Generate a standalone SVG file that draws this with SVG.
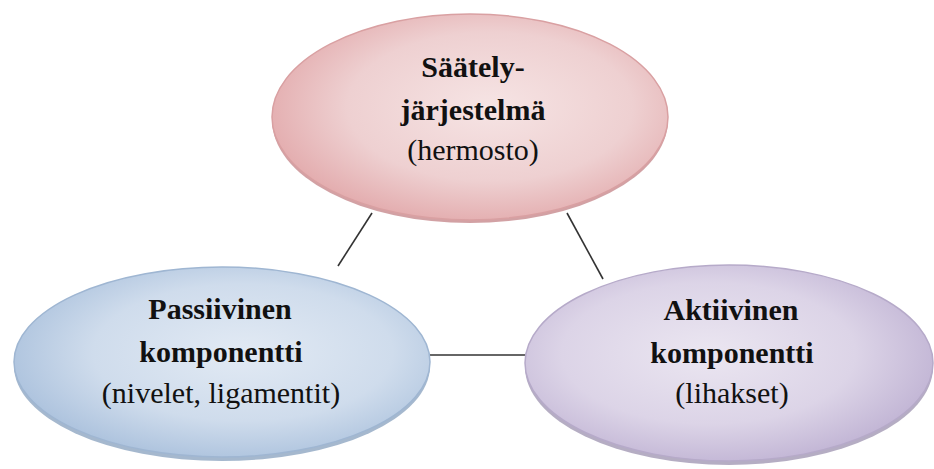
<svg xmlns="http://www.w3.org/2000/svg" width="934" height="469" viewBox="0 0 934 469">
<defs>
<radialGradient id="gPink" cx="0.55" cy="0.45" r="0.6">
<stop offset="0" stop-color="#f6e4e4"/>
<stop offset="0.6" stop-color="#eed0d1"/>
<stop offset="1" stop-color="#e2a8aa"/>
</radialGradient>
<radialGradient id="gBlue" cx="0.55" cy="0.45" r="0.6">
<stop offset="0" stop-color="#e2eaf4"/>
<stop offset="0.6" stop-color="#cfdcec"/>
<stop offset="1" stop-color="#a9c0dc"/>
</radialGradient>
<radialGradient id="gPurp" cx="0.45" cy="0.45" r="0.6">
<stop offset="0" stop-color="#ebe6f1"/>
<stop offset="0.6" stop-color="#dcd4e7"/>
<stop offset="1" stop-color="#bfb2d3"/>
</radialGradient>
</defs>
<rect width="934" height="469" fill="#ffffff"/>
<g id="connectors" stroke="#333" stroke-width="1.6" fill="none">
<line x1="372" y1="213" x2="338" y2="266"/>
<line x1="567" y1="213" x2="603" y2="279"/>
<line x1="428" y1="355" x2="527" y2="355"/>
</g>
<g id="node-saately">
<ellipse cx="470" cy="120" rx="198" ry="103" fill="#c78a8d" opacity="0.8"/>
<ellipse cx="470" cy="117" rx="198" ry="103" fill="url(#gPink)" stroke="#d9a0a2" stroke-width="1.5"/>
<text x="473" y="77" font-family="Liberation Serif" font-size="30" font-weight="bold" fill="#111" text-anchor="middle">Säätely-</text>
<text x="473" y="120" font-family="Liberation Serif" font-size="30" font-weight="bold" fill="#111" text-anchor="middle">järjestelmä</text>
<text x="473" y="160" font-family="Liberation Serif" font-size="30" fill="#111" text-anchor="middle">(hermosto)</text>
</g>
<g id="node-passiivinen">
<ellipse cx="222" cy="366" rx="208" ry="95" fill="#8ea6c2" opacity="0.8"/>
<ellipse cx="222" cy="362" rx="208" ry="95" fill="url(#gBlue)" stroke="#9fb6d2" stroke-width="1.5"/>
<text x="220" y="319" font-family="Liberation Serif" font-size="30" font-weight="bold" fill="#111" text-anchor="middle">Passiivinen</text>
<text x="221" y="362" font-family="Liberation Serif" font-size="30" font-weight="bold" fill="#111" text-anchor="middle">komponentti</text>
<text x="221" y="403" font-family="Liberation Serif" font-size="30" fill="#111" text-anchor="middle">(nivelet, ligamentit)</text>
</g>
<g id="node-aktiivinen">
<ellipse cx="729" cy="367" rx="204" ry="98" fill="#a398b4" opacity="0.8"/>
<ellipse cx="729" cy="363" rx="204" ry="98" fill="url(#gPurp)" stroke="#b6aac9" stroke-width="1.5"/>
<text x="731" y="320" font-family="Liberation Serif" font-size="30" font-weight="bold" fill="#111" text-anchor="middle">Aktiivinen</text>
<text x="732" y="363" font-family="Liberation Serif" font-size="30" font-weight="bold" fill="#111" text-anchor="middle">komponentti</text>
<text x="732" y="403" font-family="Liberation Serif" font-size="30" fill="#111" text-anchor="middle">(lihakset)</text>
</g>
</svg>
